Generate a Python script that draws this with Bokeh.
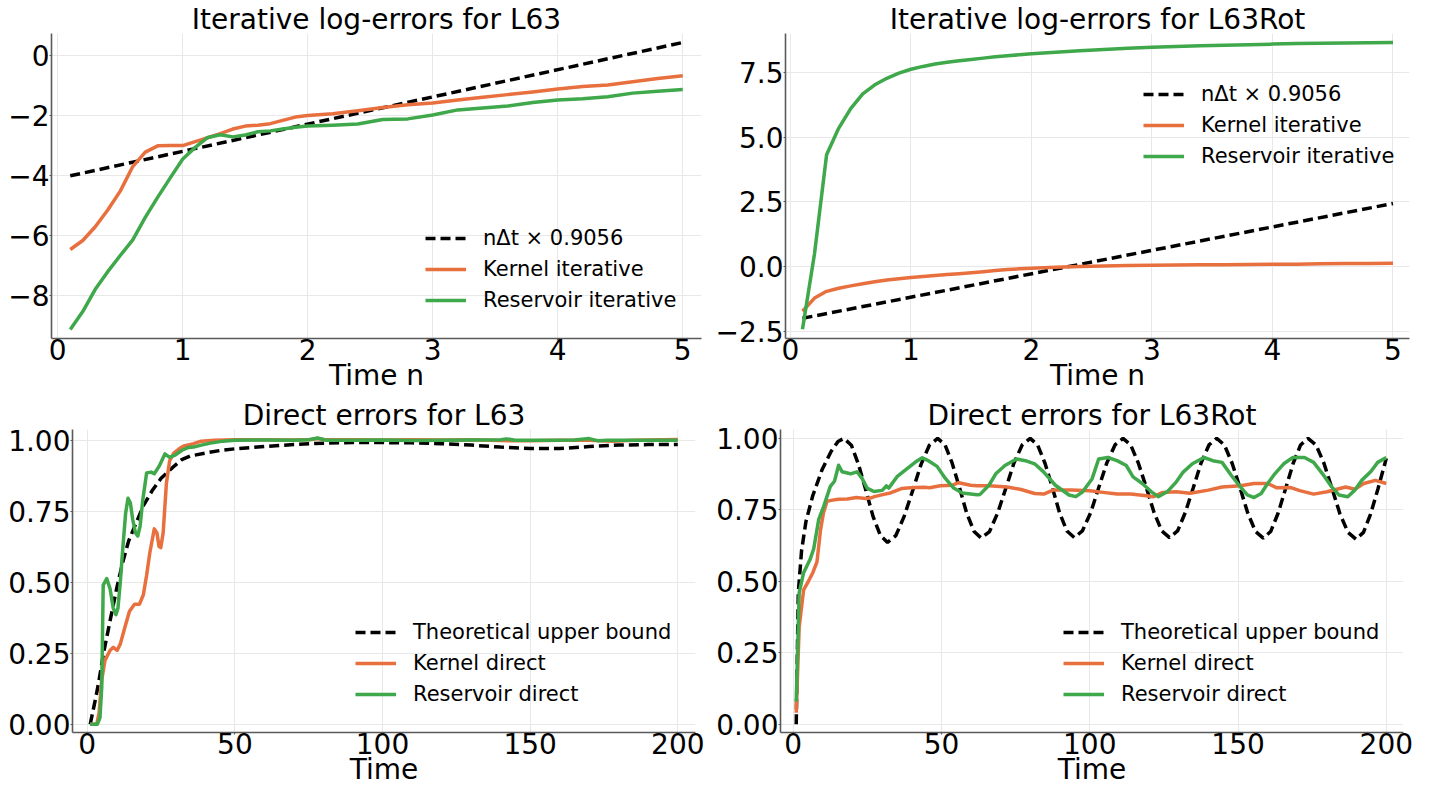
from bokeh.plotting import figure
from bokeh.models import Range1d, FixedTicker, Legend, LegendItem
from bokeh.layouts import column, row
from bokeh.embed import file_html
from bokeh.resources import INLINE

FONT = "DejaVu Sans"
ORANGE = "#e8703f"
GREEN = "#3ea84b"
AXIS_COLOR = "#5a5a5a"
GRID_COLOR = "#e8e8e8"

# ---------------- data ----------------
# Iterative log-errors (time n)
iter_n = [0.1, 0.2, 0.3, 0.4, 0.5, 0.6, 0.7, 0.8, 0.9, 1.0,
          1.1, 1.2, 1.3, 1.4, 1.5, 1.6, 1.7, 1.8, 1.9, 2.0,
          2.2, 2.4, 2.6, 2.8, 3.0, 3.2, 3.4, 3.6, 3.8, 4.0,
          4.2, 4.4, 4.6, 4.8, 5.0]

l63_kernel_iter = [-6.46, -6.16, -5.70, -5.14, -4.51, -3.69, -3.21, -3.00, -2.99, -2.99,
                   -2.86, -2.73, -2.59, -2.44, -2.34, -2.31, -2.26, -2.15, -2.04, -1.99,
                   -1.93, -1.83, -1.72, -1.63, -1.57, -1.47, -1.38, -1.29, -1.20, -1.10,
                   -1.02, -0.97, -0.86, -0.75, -0.66]
l63_res_iter = [-9.13, -8.53, -7.79, -7.20, -6.66, -6.14, -5.39, -4.71, -4.07, -3.44,
                -3.05, -2.72, -2.63, -2.70, -2.64, -2.53, -2.50, -2.44, -2.38, -2.34,
                -2.31, -2.27, -2.12, -2.10, -1.97, -1.80, -1.74, -1.67, -1.55, -1.47,
                -1.43, -1.36, -1.24, -1.18, -1.12]
l63_bound_n = [0.1, 5.0]
l63_bound_iter = [-4.00, 0.45]

rot_kernel_iter = [-1.72, -1.21, -0.95, -0.83, -0.74, -0.66, -0.58, -0.51, -0.46, -0.42,
                   -0.38, -0.34, -0.30, -0.27, -0.23, -0.19, -0.15, -0.11, -0.08, -0.06,
                   -0.02, 0.01, 0.03, 0.05, 0.06, 0.07, 0.08, 0.08, 0.09, 0.10,
                   0.10, 0.11, 0.12, 0.12, 0.13]
rot_res_iter = [-2.41, 0.51, 4.32, 5.34, 6.10, 6.67, 7.02, 7.27, 7.47, 7.62,
                7.73, 7.82, 7.89, 7.95, 8.00, 8.05, 8.10, 8.14, 8.18, 8.22,
                8.28, 8.33, 8.38, 8.43, 8.47, 8.50, 8.53, 8.55, 8.57, 8.59,
                8.61, 8.62, 8.63, 8.64, 8.65]
rot_bound_n = [0.1, 5.0]
rot_bound_iter = [-1.99, 2.44]

# Direct errors L63 (time)
l63_bound_t = [1, 2, 3, 4, 5.5, 7.7, 10, 12, 14, 16.6, 19, 22, 25, 29, 32, 35, 40, 45, 50,
               60, 70, 80, 90, 100, 110, 120, 130, 140, 150, 160, 170, 180, 190, 200]
l63_bound_dir = [0.0, 0.05, 0.10, 0.155, 0.25, 0.363, 0.48, 0.57, 0.645, 0.71, 0.77, 0.823,
                 0.866, 0.905, 0.932, 0.945, 0.955, 0.964, 0.970,
                 0.978, 0.985, 0.990, 0.992, 0.992, 0.991, 0.988, 0.983, 0.976, 0.971,
                 0.971, 0.978, 0.983, 0.985, 0.985]

l63_kernel_t = [1, 2, 3.2, 4, 4.9, 6, 7.7, 8.8, 10.1, 11.2, 12.7, 14.3, 16, 17.7, 19, 20.1,
                21.2, 22.7, 23.6, 24.3, 24.9, 25.7, 26.8, 27.9, 29.3, 31, 32.7, 34.3, 36,
                38.6, 43, 50, 60, 70, 76, 78, 80, 90, 100, 110, 120, 130, 140, 150, 160,
                170, 178, 185, 200]
l63_kernel_dir = [0.0, 0.0, 0.0, 0.04, 0.156, 0.225, 0.26, 0.271, 0.26, 0.283, 0.34, 0.398,
                  0.423, 0.423, 0.456, 0.525, 0.605, 0.688, 0.674, 0.626, 0.622, 0.674,
                  0.848, 0.928, 0.955, 0.969, 0.98, 0.984, 0.988, 0.997, 1.0, 1.002,
                  1.002, 1.001, 1.003, 1.006, 1.003, 1.002, 1.001, 1.002, 1.001, 1.002,
                  0.999, 0.998, 1.0, 1.0, 0.997, 1.0, 1.003]

l63_res_t = [1, 2, 3.4, 4.3, 4.9, 5.4, 6.6, 7.7, 8.8, 9.7, 10.4, 11.2, 12.1, 13, 13.8,
             14.6, 15.4, 16.3, 17.1, 17.9, 18.8, 20.1, 21.6, 22.7, 24.3, 26.3, 27.9,
             29.9, 32.1, 34.3, 36, 38.6, 41.7, 46, 50, 60, 70, 75, 78, 81, 90, 100,
             110, 120, 130, 140, 142, 145, 155, 165, 170, 173, 176, 185, 200]
l63_res_dir = [0.0, 0.0, 0.0, 0.023, 0.13, 0.49, 0.513, 0.478, 0.409, 0.386, 0.409, 0.502,
               0.628, 0.744, 0.796, 0.779, 0.721, 0.675, 0.663, 0.698, 0.79, 0.885, 0.888,
               0.882, 0.908, 0.952, 0.94, 0.949, 0.965, 0.975, 0.976, 0.983, 0.99, 0.997,
               1.0, 1.001, 1.0, 1.002, 1.008, 1.0, 1.0, 1.001, 0.999, 1.0, 1.001, 1.002,
               1.005, 1.0, 1.0, 1.001, 1.006, 0.998, 1.0, 1.0, 1.0]

# Direct errors L63Rot (time)
rot_bound_t = [1, 1.7, 2.8, 4.3, 6.6, 9.7, 12.8, 15.1, 17.1,
               19.6, 22.0, 24.5, 26.9, 29.4, 31.8,
               34.6, 37.4, 40.3, 43.1, 45.9, 48.7,
               51.2, 53.6, 56.1, 58.5, 61.0, 63.4,
               66.2, 68.9, 71.7, 74.4, 77.2, 79.9,
               82.4, 84.9, 87.4, 89.8, 92.3, 94.8,
               97.5, 100.3, 103.0, 105.7, 108.5, 111.2,
               113.8, 116.4, 119.1, 121.7, 124.3, 126.9,
               129.6, 132.2, 134.9, 137.5, 140.2, 142.8,
               145.4, 148.0, 150.7, 153.3, 155.9, 158.5,
               161.0, 163.5, 166.1, 168.6, 171.1, 173.6,
               176.3, 179.0, 181.7, 184.4, 187.1, 189.8,
               192.3, 194.7, 197.2, 200.0]
rot_bound_dir = [0.0, 0.46, 0.607, 0.71, 0.80, 0.89, 0.955, 0.989, 1.0,
                 0.976, 0.909, 0.818, 0.727, 0.660, 0.636,
                 0.660, 0.727, 0.818, 0.909, 0.976, 1.0,
                 0.977, 0.913, 0.826, 0.738, 0.674, 0.651,
                 0.674, 0.738, 0.826, 0.913, 0.977, 1.0,
                 0.977, 0.913, 0.827, 0.740, 0.676, 0.653,
                 0.676, 0.740, 0.827, 0.913, 0.977, 1.0,
                 0.977, 0.913, 0.827, 0.740, 0.676, 0.653,
                 0.676, 0.740, 0.827, 0.913, 0.977, 1.0,
                 0.977, 0.913, 0.826, 0.738, 0.674, 0.651,
                 0.674, 0.738, 0.826, 0.913, 0.977, 1.0,
                 0.977, 0.912, 0.824, 0.735, 0.671, 0.647,
                 0.671, 0.735, 0.824, 0.930]

rot_kernel_t = [1, 2, 3.5, 5.1, 6.6, 8.0, 9.2, 10.2, 11.4, 12.8, 15.1, 18.2, 21.3, 24.4,
                26, 27.4, 30.5, 32.8, 36.7, 38.4, 41.3, 44, 46, 49.6, 53.7, 55.8, 59.8,
                62, 66, 72.2, 76.8, 81.4, 84.5, 87.6, 93.8, 100, 104.5, 109.2, 113.8,
                118.4, 121.5, 124.6, 129.2, 133.8, 140, 144.6, 150.8, 155.4, 160, 163.1,
                167.8, 170.8, 175.5, 180, 186.3, 189.4, 192.4, 196.3, 200]
rot_kernel_dir = [0.04, 0.34, 0.47, 0.50, 0.53, 0.568, 0.68, 0.74, 0.78, 0.783, 0.787,
                  0.788, 0.793, 0.79, 0.791, 0.796, 0.804, 0.809, 0.825, 0.826, 0.828,
                  0.829, 0.827, 0.834, 0.836, 0.845, 0.836, 0.834, 0.834, 0.83, 0.821,
                  0.807, 0.805, 0.819, 0.819, 0.817, 0.811, 0.805, 0.805, 0.80, 0.796,
                  0.811, 0.813, 0.808, 0.819, 0.83, 0.834, 0.842, 0.842, 0.827, 0.828,
                  0.817, 0.805, 0.813, 0.83, 0.822, 0.842, 0.853, 0.842]

rot_res_t = [1, 2, 3.5, 5.8, 6.9, 8.6, 10.3, 12.5, 13.9, 15.3, 16.5, 19.3, 21.5, 23.2,
             24.9, 27.2, 30, 31.4, 32.2, 35, 38.4, 41.2, 43.5, 45.7, 48.5, 51.3, 54.1,
             57, 62, 63, 66, 68.3, 71.4, 75.3, 78.3, 81.4, 84.5, 88.4, 93, 95.3, 97.6,
             100.8, 103, 106.1, 109.2, 112.3, 114.6, 117.7, 120.8, 123.1, 126.1, 129.2,
             131.5, 134.6, 138.5, 141.5, 144.6, 147.7, 150.8, 153.1, 155.4, 157.8, 160,
             162.4, 165.4, 168.5, 172.4, 175.5, 178.5, 181.6, 184, 187, 189.4, 191.7,
             194.8, 197.1, 200]
rot_res_dir = [0.08, 0.46, 0.53, 0.58, 0.614, 0.717, 0.763, 0.832, 0.85, 0.906, 0.883,
               0.876, 0.883, 0.86, 0.826, 0.814, 0.818, 0.834, 0.826, 0.866, 0.894, 0.917,
               0.932, 0.921, 0.902, 0.86, 0.826, 0.809, 0.803, 0.804, 0.836, 0.876, 0.905,
               0.928, 0.922, 0.911, 0.882, 0.836, 0.802, 0.796, 0.813, 0.859, 0.928, 0.933,
               0.922, 0.905, 0.865, 0.842, 0.813, 0.796, 0.813, 0.848, 0.882, 0.911, 0.933,
               0.922, 0.916, 0.871, 0.83, 0.802, 0.793, 0.807, 0.842, 0.876, 0.911, 0.933,
               0.933, 0.916, 0.876, 0.83, 0.802, 0.796, 0.819, 0.853, 0.884, 0.916, 0.933]

# ticks
iter_x_ticks = [0, 1, 2, 3, 4, 5]
iter_x_labels = ["0", "1", "2", "3", "4", "5"]
l63_iter_y_ticks = [-8, -6, -4, -2, 0]
l63_iter_y_labels = ["\u22128", "\u22126", "\u22124", "\u22122", "0"]
rot_iter_y_ticks = [-2.5, 0.0, 2.5, 5.0, 7.5]
rot_iter_y_labels = ["\u22122.5", "0.0", "2.5", "5.0", "7.5"]
dir_x_ticks = [0, 50, 100, 150, 200]
dir_x_labels = ["0", "50", "100", "150", "200"]
dir_y_ticks = [0.0, 0.25, 0.5, 0.75, 1.0]
dir_y_labels = ["0.00", "0.25", "0.50", "0.75", "1.00"]

legend_iter = ["n\u0394t \u00d7 0.9056", "Kernel iterative", "Reservoir iterative"]
legend_dir = ["Theoretical upper bound", "Kernel direct", "Reservoir direct"]


def make_panel(width, height, bl, br, bt, bb, xr, yr, xt, xl, yt, yl,
               title, xlabel, leg_loc, series, labels):
    p = figure(width=width, height=height, output_backend="svg", toolbar_location=None,
               x_range=Range1d(*xr), y_range=Range1d(*yr),
               min_border_left=bl, min_border_right=br, min_border_top=bt,
               min_border_bottom=bb, title=title)
    p.title.text_font = FONT
    p.title.text_font_size = "28px"
    p.title.text_font_style = "normal"
    p.title.text_color = "black"
    p.title.align = "center"
    p.title.standoff = -4
    p.outline_line_color = None
    p.background_fill_color = "white"
    p.border_fill_color = "white"
    p.xaxis.ticker = FixedTicker(ticks=xt)
    p.yaxis.ticker = FixedTicker(ticks=yt)
    p.xaxis.major_label_overrides = {t: s for t, s in zip(xt, xl)}
    p.yaxis.major_label_overrides = {t: s for t, s in zip(yt, yl)}
    for ax in (p.xaxis, p.yaxis):
        ax.axis_line_color = AXIS_COLOR
        ax.axis_line_width = 1.6
        ax.major_tick_line_color = AXIS_COLOR
        ax.major_tick_line_width = 1.2
        ax.major_tick_out = 2
        ax.major_tick_in = 0
        ax.minor_tick_line_color = None
        ax.major_label_text_font = FONT
        ax.major_label_text_font_size = "28px"
        ax.major_label_text_color = "black"
    p.yaxis.major_label_standoff = 0
    p.xaxis.major_label_standoff = -2
    p.xaxis.axis_label = xlabel
    p.xaxis.axis_label_text_font = FONT
    p.xaxis.axis_label_text_font_size = "28px"
    p.xaxis.axis_label_text_font_style = "normal"
    p.xaxis.axis_label_text_color = "black"
    p.xaxis.axis_label_standoff = -4
    p.grid.grid_line_color = GRID_COLOR
    p.grid.grid_line_width = 1

    rends = []
    (bx, by), (kx, ky), (rx, ry) = series
    rends.append(p.line(bx, by, line_color="black", line_width=3.5, line_dash="10 5"))
    rends.append(p.line(kx, ky, line_color=ORANGE, line_width=3.5, line_join="round"))
    rends.append(p.line(rx, ry, line_color=GREEN, line_width=3.5, line_join="round"))

    leg = Legend(items=[LegendItem(label=lab, renderers=[r]) for lab, r in zip(labels, rends)],
                 location=leg_loc)
    leg.label_text_font = FONT
    leg.label_text_font_size = "21px"
    leg.label_text_color = "black"
    leg.glyph_width = 41
    leg.glyph_height = 24
    leg.label_height = 24
    leg.label_standoff = 17
    leg.spacing = 7
    leg.padding = 0
    leg.margin = 0
    leg.border_line_color = None
    leg.background_fill_alpha = 0
    p.add_layout(leg)
    return p


p1 = make_panel(707, 394, 51, 6, 33, 56, (-0.05, 5.15), (-9.43, 0.75),
                iter_x_ticks, iter_x_labels, l63_iter_y_ticks, l63_iter_y_labels,
                "Iterative log-errors for L63", "Time n", (374, 26),
                [(l63_bound_n, l63_bound_iter), (iter_n, l63_kernel_iter), (iter_n, l63_res_iter)],
                legend_iter)
p2 = make_panel(707, 394, 78, 5, 33, 56, (-0.041, 5.137), (-2.77, 9.0),
                iter_x_ticks, iter_x_labels, rot_iter_y_ticks, rot_iter_y_labels,
                "Iterative log-errors for L63Rot", "Time n", (358, 170),
                [(rot_bound_n, rot_bound_iter), (iter_n, rot_kernel_iter), (iter_n, rot_res_iter)],
                legend_iter)
p3 = make_panel(707, 394, 72, 12, 35, 56, (-5.0, 206.0), (-0.029, 1.038),
                dir_x_ticks, dir_x_labels, dir_y_ticks, dir_y_labels,
                "Direct errors for L63", "Time", (283, 26),
                [(l63_bound_t, l63_bound_dir), (l63_kernel_t, l63_kernel_dir), (l63_res_t, l63_res_dir)],
                legend_dir)
p4 = make_panel(707, 394, 73, 11, 35, 56, (-4.3, 205.8), (-0.029, 1.031),
                dir_x_ticks, dir_x_labels, dir_y_ticks, dir_y_labels,
                "Direct errors for L63Rot", "Time", (283, 26),
                [(rot_bound_t, rot_bound_dir), (rot_kernel_t, rot_kernel_dir), (rot_res_t, rot_res_dir)],
                legend_dir)

layout = column(row(p1, p2, spacing=0), row(p3, p4, spacing=0), spacing=0)
open("out.html", "w").write(file_html(layout, INLINE))
